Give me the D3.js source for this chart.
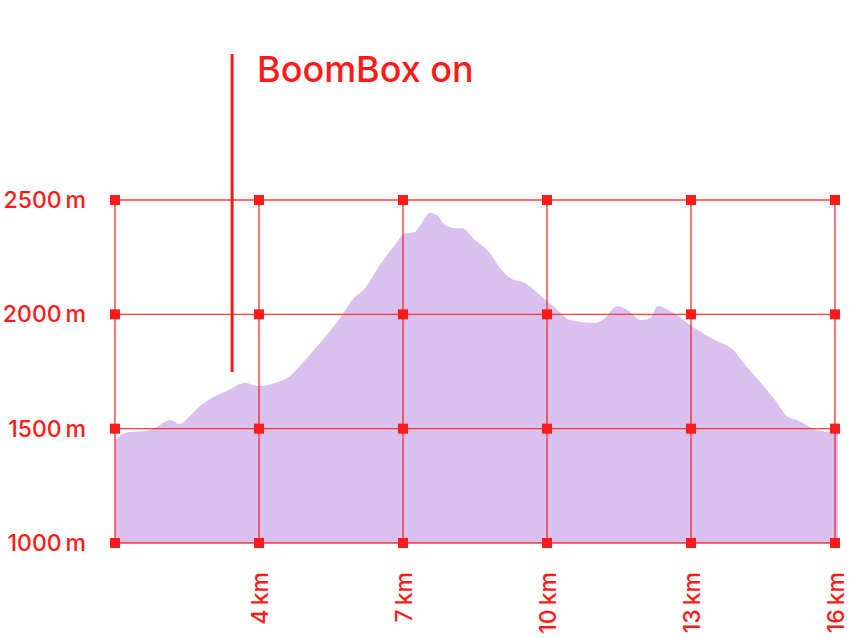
<!DOCTYPE html>
<html>
<head>
<meta charset="utf-8">
<script src="https://cdn.jsdelivr.net/npm/d3@7"></script>
<style>
  html, body { margin: 0; padding: 0; background: #fff; }
  svg { display: block; }
  text { font-family: Inter, "Liberation Sans", Arial, sans-serif; font-weight: 500; }
</style>
</head>
<body>
<svg id="chart" width="855" height="638"></svg>
<script>
// ---- data ----
const distanceKm = [1.00,1.10,1.31,1.63,1.83,2.04,2.15,2.35,2.56,2.77,2.98,3.29,3.71,3.98,4.33,4.65,4.85,5.27,5.69,5.94,6.21,6.52,6.83,7.02,7.25,7.35,7.56,7.71,7.83,8.08,8.23,8.50,8.81,9.02,9.23,9.54,9.85,10.17,10.48,11.00,11.21,11.46,11.73,11.94,12.15,12.31,12.60,13.04,13.50,13.88,14.13,14.44,14.75,15.02,15.21,15.52,15.69,16.00,16.06];
const elevationM = [1450,1468,1485,1490,1503,1529,1538,1520,1555,1599,1630,1660,1700,1687,1700,1730,1774,1875,1984,2063,2115,2216,2303,2351,2360,2386,2443,2434,2399,2377,2377,2325,2268,2203,2159,2137,2085,2028,1975,1962,1984,2036,2010,1975,1984,2036,2010,1945,1888,1844,1778,1704,1625,1551,1538,1503,1490,1485,1485];
const xGridKm = [1, 4, 7, 10, 13, 16];
const xTickKm = [4, 7, 10, 13, 16];
const yTicksM = [1000, 1500, 2000, 2500];
const annotationKm = 3.44;
const annotationLabel = "BoomBox on";

// ---- layout ----
const svg = d3.select("#chart");
const red = "#ff1a1a";
const x = d3.scaleLinear().domain([1, 16]).range([115, 835]);
const y = d3.scaleLinear().domain([1000, 2500]).range([543, 200]);

const profile = distanceKm.map((d, i) => ({ km: d, m: elevationM[i] }));

// area
const area = d3.area()
  .x(d => x(d.km))
  .y0(y(1000))
  .y1(d => y(d.m))
  .curve(d3.curveMonotoneX);

svg.append("path")
  .datum(profile)
  .attr("d", area)
  .attr("fill", "#d9c0ee");

// grid
const grid = svg.append("g");
grid.selectAll("line.h").data(yTicksM).join("line")
  .attr("class", "h")
  .attr("x1", x(1)).attr("x2", x(16))
  .attr("y1", d => y(d)).attr("y2", d => y(d))
  .attr("stroke", red).attr("stroke-opacity", 0.85).attr("stroke-width", 1.3);
grid.selectAll("line.v").data(xGridKm).join("line")
  .attr("class", "v")
  .attr("x1", d => x(d)).attr("x2", d => x(d))
  .attr("y1", y(2500)).attr("y2", y(1000))
  .attr("stroke", red).attr("stroke-opacity", 0.85).attr("stroke-width", 1.4);

// markers
const pts = [];
xGridKm.forEach(k => yTicksM.forEach(m => pts.push([k, m])));
svg.append("g").selectAll("rect").data(pts).join("rect")
  .attr("x", d => x(d[0]) - 5)
  .attr("y", d => y(d[1]) - 5)
  .attr("width", 10).attr("height", 10)
  .attr("fill", red);

// y axis labels
const yAxis = d3.axisLeft(y).tickValues(yTicksM).tickSize(0).tickPadding(29)
  .tickFormat(d => d + "\u2009m");
const gy = svg.append("g").attr("transform", `translate(${x(1)},0)`).call(yAxis);
gy.select(".domain").remove();
gy.selectAll("text").attr("fill", red).attr("font-size", 23)
  .attr("font-family", "Inter, 'Liberation Sans', Arial, sans-serif")
  .attr("font-weight", 500);

// x axis labels (rotated)
const xAxis = d3.axisBottom(x).tickValues(xTickKm).tickSize(0).tickFormat(d => d + "\u2009km");
const gx = svg.append("g").attr("transform", `translate(0,${y(1000)})`).call(xAxis);
gx.select(".domain").remove();
gx.selectAll("text")
  .attr("fill", red).attr("font-size", 23)
  .attr("font-family", "Inter, 'Liberation Sans', Arial, sans-serif")
  .attr("font-weight", 500)
  .attr("dy", null).attr("y", 0)
  .attr("text-anchor", "end")
  .attr("dominant-baseline", "central")
  .attr("transform", "translate(0,29) rotate(-90)");

// annotation
svg.append("line")
  .attr("x1", x(annotationKm)).attr("x2", x(annotationKm))
  .attr("y1", 54).attr("y2", 372)
  .attr("stroke", red).attr("stroke-width", 3);
svg.append("text")
  .attr("x", 257).attr("y", 82)
  .attr("fill", red).attr("font-size", 36)
  .attr("font-weight", 500)
  .text(annotationLabel);
</script>
</body>
</html>
